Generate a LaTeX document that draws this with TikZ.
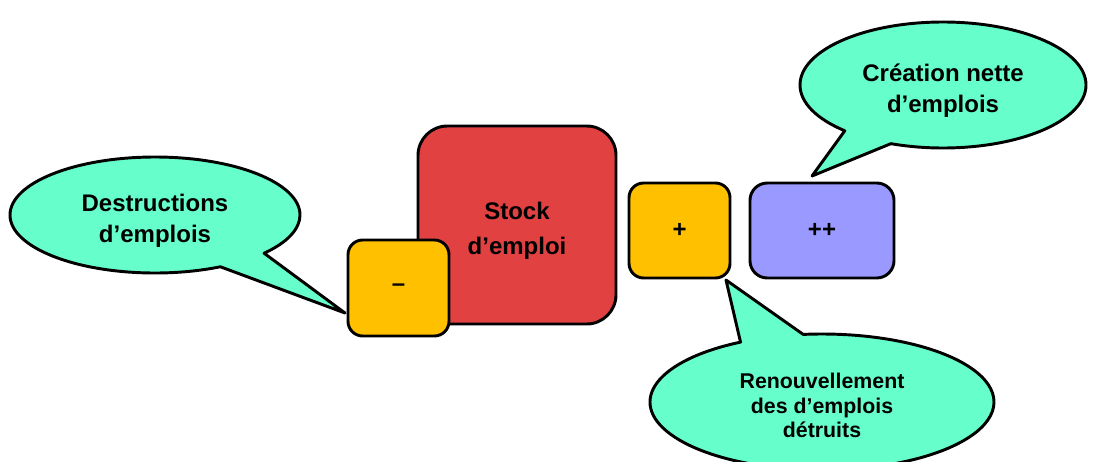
\documentclass[tikz,border=0pt]{standalone}
\usepackage{fontspec}
\setmainfont{Liberation Sans}
\usetikzlibrary{shapes.callouts}
\definecolor{stockred}{RGB}{225,65,65}
\definecolor{flowgold}{RGB}{255,192,0}
\definecolor{netblue}{RGB}{153,153,255}
\definecolor{bubble}{RGB}{102,255,204}

\tikzset{
  box/.style={draw=black,line width=2.2pt,align=center,inner sep=0pt,
    font=\bfseries\fontsize{18}{26}\selectfont},
  bulle/.style={ellipse callout,draw=black,fill=bubble,line width=2.2pt,inner sep=0pt,
    align=center,callout pointer arc=22,font=\bfseries\fontsize{18}{23}\selectfont}
}
% invisible strut that lowers the text a little
\newcommand{\txtdrop}[1]{\rule{0pt}{#1}}

\begin{document}
\begin{tikzpicture}[x=0.75pt,y=-0.75pt,line join=round]
  \useasboundingbox (0,0) rectangle (1098,461);
  \clip (0,0) rectangle (1098,461);
  % boxes
  \node[box,fill=stockred,rounded corners=22pt,minimum width=148.5pt,minimum height=148.5pt] (stock) at (517,225) {\txtdrop{22pt}Stock\\d’emploi};
  \node[box,fill=flowgold,rounded corners=11pt,minimum width=75.75pt,minimum height=72pt] (moins) at (398.5,288) {–};
  \node[box,fill=flowgold,rounded corners=11pt,minimum width=75.75pt,minimum height=71.25pt] (plus) at (679.5,230.5) {+};
  \node[box,fill=netblue,rounded corners=13pt,minimum width=108pt,minimum height=71.25pt] (net) at (822,230.5) {++};
  % tips of the callouts
  \coordinate (tipD) at (345,313);
  \coordinate (tipC) at (812,176);
  \coordinate (tipR) at (726,280);
  % callouts
  \node[bulle,minimum width=217.5pt,minimum height=87pt,callout absolute pointer={(tipD)}] (destr) at (155,215) {\txtdrop{22pt}Destructions\\d’emplois};
  \node[bulle,minimum width=214.5pt,minimum height=94.5pt,callout absolute pointer={(tipC)}] (creat) at (943,85) {\txtdrop{22pt}Création nette\\d’emplois};
  \node[bulle,minimum width=258pt,minimum height=102pt,callout absolute pointer={(tipR)},
    font=\bfseries\fontsize{16}{18.5}\selectfont] (renouv) at (822,402) {\txtdrop{17pt}Renouvellement\\des d’emplois\\détruits};
\end{tikzpicture}
\end{document}
